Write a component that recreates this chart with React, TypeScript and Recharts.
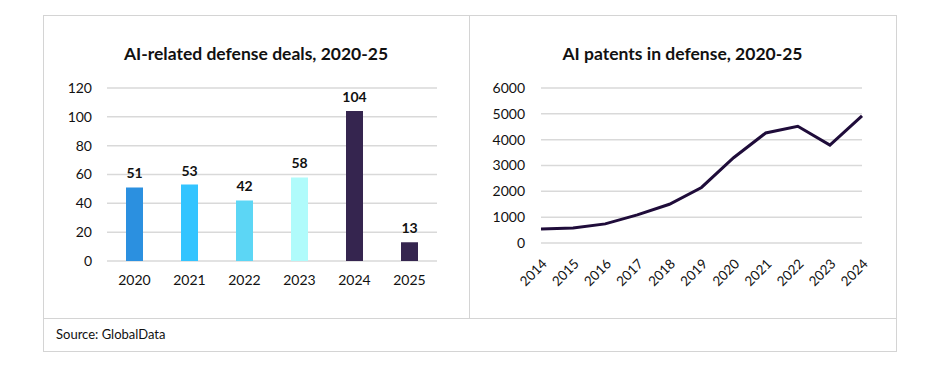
import { Bar, BarChart, CartesianGrid, Cell, LabelList, Line, LineChart, XAxis, YAxis } from "recharts";

// deals chart
const dealYears = ["2020", "2021", "2022", "2023", "2024", "2025"];
const dealCounts = [51, 53, 42, 58, 104, 13];
const dealColors = ["#2B90E0", "#33C4FF", "#5CD6F5", "#B0FBFB", "#35254F", "#35254F"];
const dealTicks = [0, 20, 40, 60, 80, 100, 120];

// patents chart
const patentYears = ["2014", "2015", "2016", "2017", "2018", "2019", "2020", "2021", "2022", "2023", "2024"];
const patentCounts = [540, 580, 740, 1090, 1500, 2150, 3300, 4260, 4520, 3790, 4920];
const patentTicks = [0, 1000, 2000, 3000, 4000, 5000, 6000];

const dealsData = dealYears.map((year, i) => ({ year, deals: dealCounts[i] }));
const patentsData = patentYears.map((year, i) => ({ year, patents: patentCounts[i] }));

const FONT = "Lato, 'Open Sans', sans-serif";
const BORDER = "#D4D4D4";
const tickStyle = { fill: "#111", fontSize: 14, fontFamily: FONT };

const titleStyle = (left: number, width: number) => ({
    position: "absolute" as const,
    left,
    width,
    top: 44,
    textAlign: "center" as const,
    fontFamily: FONT,
    fontWeight: 700,
    fontSize: 17.5,
    color: "#111",
    lineHeight: "20px",
});

const App = () => {
    return (
        <div style={{ position: "absolute", left: 0, top: 0, width: 940, height: 369, background: "#fff" }}>
            {/* outer frame */}
            <div style={{ position: "absolute", left: 43, top: 15, width: 852, height: 335, border: `1px solid ${BORDER}` }} />
            <div style={{ position: "absolute", left: 469, top: 15, width: 1, height: 303, background: BORDER }} />
            <div style={{ position: "absolute", left: 43, top: 318, width: 853, height: 1, background: BORDER }} />

            <div style={titleStyle(43, 426)}>AI-related defense deals, 2020-25</div>
            <div style={titleStyle(469, 427)}>AI patents in defense, 2020-25</div>

            <div style={{ position: "absolute", left: 44, top: 15 }}>
                <BarChart width={425} height={303} data={dealsData} margin={{ top: 73, right: 32, bottom: 0, left: 0 }}>
                    <CartesianGrid vertical={false} stroke="#D9D9D9" strokeWidth={1.5} />
                    <XAxis dataKey="year" axisLine={false} tickLine={false} tick={tickStyle} tickMargin={8} height={57} />
                    <YAxis
                        domain={[0, 120]}
                        ticks={dealTicks}
                        axisLine={false}
                        tickLine={false}
                        tick={tickStyle}
                        tickMargin={9}
                        width={63}
                    />
                    <Bar dataKey="deals" barSize={17} isAnimationActive={false}>
                        {dealsData.map((_, index) => (
                            <Cell key={`cell-${index}`} fill={dealColors[index]} />
                        ))}
                        <LabelList
                            dataKey="deals"
                            position="top"
                            offset={9}
                            style={{ fill: "#111", fontSize: 14, fontWeight: 700, fontFamily: FONT }}
                        />
                    </Bar>
                </BarChart>
            </div>

            <div style={{ position: "absolute", left: 469, top: 15 }}>
                <LineChart width={427} height={303} data={patentsData} margin={{ top: 73, right: 34, bottom: 0, left: 0 }}>
                    <CartesianGrid vertical={false} stroke="#D9D9D9" strokeWidth={1.5} />
                    <XAxis
                        dataKey="year"
                        axisLine={false}
                        tickLine={false}
                        tick={{ ...tickStyle, fontSize: 13.5 }}
                        angle={-45}
                        textAnchor="end"
                        tickMargin={9}
                        interval={0}
                        height={75}
                    />
                    <YAxis
                        domain={[0, 6000]}
                        ticks={patentTicks}
                        axisLine={false}
                        tickLine={false}
                        tick={tickStyle}
                        tickMargin={10}
                        width={72}
                    />
                    <Line
                        type="linear"
                        dataKey="patents"
                        stroke="#1F0C3A"
                        strokeWidth={3}
                        dot={false}
                        isAnimationActive={false}
                    />
                </LineChart>
            </div>

            <div
                style={{
                    position: "absolute",
                    left: 56,
                    top: 326,
                    fontFamily: FONT,
                    fontSize: 13,
                    color: "#111",
                    lineHeight: "16px",
                }}
            >
                Source: GlobalData
            </div>
        </div>
    );
};

export default App;
